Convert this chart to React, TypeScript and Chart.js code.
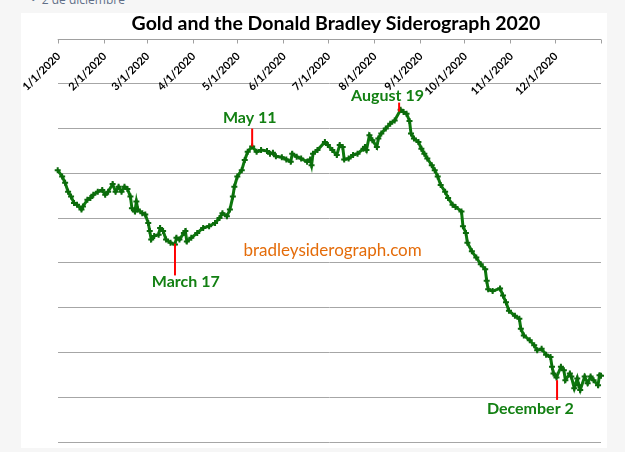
import React, { useEffect, useRef } from 'react';
import { Chart, registerables } from 'chart.js';

Chart.register(...registerables);

const TITLE = 'Gold and the Donald Bradley Siderograph 2020';

// x axis: day offsets from 1/1/2020
const MONTH_TICK_DAYS = [0, 31, 60, 91, 121, 152, 182, 213, 244, 274, 305, 335, 366];
const MONTH_TICK_LABELS = [
  '1/1/2020', '2/1/2020', '3/1/2020', '4/1/2020', '5/1/2020', '6/1/2020',
  '7/1/2020', '8/1/2020', '9/1/2020', '10/1/2020', '11/1/2020', '12/1/2020', '',
];

const DAY_OFFSETS = [
  0, 3, 5, 7, 9, 11, 13, 16, 17, 20,
  22, 24, 27, 30, 32, 34, 37, 39, 41, 43,
  45, 47, 49, 50, 52, 53, 54, 57, 59, 61,
  62, 63, 65, 68, 69, 71, 73, 76, 79, 80,
  82, 85, 86, 87, 90, 94, 98, 102, 106, 109,
  111, 114, 116, 118, 119, 121, 124, 126, 128, 131,
  134, 137, 141, 143, 145, 147, 151, 154, 157, 158,
  161, 164, 168, 170, 171, 172, 175, 180, 182, 185,
  188, 190, 192, 193, 196, 199, 202, 206, 207, 208,
  210, 212, 215, 216, 218, 221, 224, 227, 231, 233,
  235, 237, 238, 240, 243, 245, 247, 249, 252, 254,
  256, 258, 261, 263, 266, 268, 272, 273, 275, 276,
  279, 282, 285, 288, 289, 290, 293, 298, 300, 302,
  304, 308, 311, 312, 314, 318, 321, 323, 326, 329,
  332, 333, 334, 336, 339, 341, 342, 345, 346, 348,
  350, 351, 352, 355, 357, 359, 361, 364, 365, 366,
];

const SIDEROGRAPH_VALUES = [
  607, 593, 579, 559, 548, 534, 530, 519, 526, 541,
  545, 552, 559, 563, 552, 559, 576, 559, 570, 559,
  570, 565, 548, 522, 515, 537, 519, 511, 508, 489,
  471, 452, 460, 463, 478, 471, 452, 445, 441, 456,
  452, 467, 471, 448, 456, 467, 478, 482, 489, 500,
  511, 504, 519, 548, 570, 593, 607, 630, 648, 660,
  648, 652, 650, 644, 646, 638, 636, 631, 626, 644,
  637, 633, 626, 631, 618, 644, 652, 670, 663, 652,
  641, 663, 659, 631, 633, 641, 644, 655, 659, 652,
  685, 674, 659, 678, 689, 700, 711, 718, 742, 737,
  733, 717, 689, 678, 670, 655, 644, 633, 618, 607,
  593, 574, 559, 545, 530, 525, 515, 482, 467, 445,
  426, 412, 397, 386, 360, 341, 337, 343, 327, 312,
  293, 282, 275, 253, 238, 227, 216, 205, 208, 195,
  190, 168, 153, 144, 168, 160, 138, 153, 146, 120,
  142, 127, 116, 146, 131, 146, 138, 127, 149, 148,
];

// turning point annotations
const TURN_LABELS = ['March 17', 'May 11', 'August 19', 'December 2'];
const TURN_DAYS = [79, 131, 230, 336.4];
const TURN_LINE_TOP = [443, 700, 758, 138];
const TURN_LINE_BOTTOM = [372, 660, 738, 94];
const TURN_LABEL_DAYS = [86.3, 129.4, 222.2, 318.4];
const TURN_LABEL_VALUES = [357, 723, 772, 75];

const WATERMARK = 'bradleysiderograph.com';
const WATERMARK_DAY = 185.2;
const WATERMARK_VALUE = 428;

const overlay = {
  id: 'overlay',
  afterDraw(chart: any) {
    const { ctx, chartArea, scales } = chart;
    const xs = scales.x;
    const ys = scales.y;
    ctx.save();

    // title
    ctx.font = 'bold 19.5px Lato';
    ctx.fillStyle = '#000000';
    ctx.textAlign = 'center';
    ctx.textBaseline = 'middle';
    ctx.fillText(TITLE, 315, 11);

    // top axis line + tick marks
    const top = Math.round(chartArea.top) + 0.5;
    ctx.strokeStyle = '#a0a0a0';
    ctx.lineWidth = 1;
    ctx.beginPath();
    ctx.moveTo(chartArea.left, top);
    ctx.lineTo(chartArea.right, top);
    MONTH_TICK_DAYS.forEach((d) => {
      const x = Math.round(xs.getPixelForValue(d)) + 0.5;
      ctx.moveTo(x, top);
      ctx.lineTo(x, top + 4);
    });
    ctx.stroke();

    // rotated tick labels hanging below the axis
    ctx.font = 'bold 11px Lato';
    ctx.fillStyle = '#000000';
    ctx.textAlign = 'right';
    ctx.textBaseline = 'middle';
    MONTH_TICK_LABELS.forEach((t, i) => {
      if (!t) return;
      const x = xs.getPixelForValue(MONTH_TICK_DAYS[i]);
      ctx.save();
      ctx.translate(x + 1, top + 15);
      ctx.rotate(-Math.PI / 4);
      ctx.fillText(t, 0, 0);
      ctx.restore();
    });

    // red marker lines
    ctx.strokeStyle = '#ff0000';
    ctx.lineWidth = 2;
    TURN_DAYS.forEach((d, i) => {
      const x = xs.getPixelForValue(d);
      ctx.beginPath();
      ctx.moveTo(x, ys.getPixelForValue(TURN_LINE_TOP[i]));
      ctx.lineTo(x, ys.getPixelForValue(TURN_LINE_BOTTOM[i]));
      ctx.stroke();
    });

    // labels
    ctx.font = 'bold 16px Lato';
    ctx.fillStyle = '#138013';
    ctx.textAlign = 'center';
    ctx.textBaseline = 'middle';
    TURN_LABELS.forEach((t, i) => {
      ctx.fillText(t, xs.getPixelForValue(TURN_LABEL_DAYS[i]), ys.getPixelForValue(TURN_LABEL_VALUES[i]));
    });

    // watermark
    ctx.font = '17px Lato';
    ctx.fillStyle = '#e46c0a';
    ctx.fillText(WATERMARK, xs.getPixelForValue(WATERMARK_DAY), ys.getPixelForValue(WATERMARK_VALUE));

    ctx.restore();
  },
};

export default function App() {
  const ref = useRef<HTMLCanvasElement>(null);

  useEffect(() => {
    const canvas = ref.current;
    if (!canvas) return;
    const chart = new Chart(canvas, {
      type: 'line',
      data: {
        datasets: [
          {
            label: 'Siderograph',
            data: DAY_OFFSETS.map((d, i) => ({ x: d, y: SIDEROGRAPH_VALUES[i] })),
            borderColor: '#0d780d',
            borderWidth: 3,
            pointStyle: 'cross',
            pointRadius: 3,
            pointBorderWidth: 2,
            pointBorderColor: '#0b6a0b',
            pointBackgroundColor: '#0b6a0b',
            tension: 0,
            clip: false,
          } as any,
        ],
      },
      options: {
        responsive: false,
        animation: false,
        events: [],
        layout: { padding: { top: 26, left: 36.7, right: 5.3, bottom: 4 } },
        plugins: {
          legend: { display: false },
          title: { display: false },
          tooltip: { enabled: false },
        },
        scales: {
          x: { type: 'linear', min: 0, max: 366, display: false },
          y: {
            type: 'linear',
            min: 0,
            max: 900,
            ticks: { stepSize: 100, display: false },
            grid: { color: '#a6a6a6', lineWidth: 1, drawTicks: false },
            border: { display: false },
          },
        },
      },
      plugins: [overlay],
    });
    if ((document as any).fonts && (document as any).fonts.ready) {
      (document as any).fonts.ready.then(() => chart.draw());
    }
    return () => chart.destroy();
  }, []);

  return (
    <div
      style={{
        position: 'fixed',
        left: 0,
        top: 0,
        width: 625,
        height: 452,
        background: '#f6f6f6',
        overflow: 'hidden',
      }}
    >
      <div
        style={{
          position: 'absolute',
          left: 31,
          top: -9,
          font: '12px "Open Sans", sans-serif',
          color: '#5f6f88',
          whiteSpace: 'nowrap',
        }}
      >
        •&nbsp;&nbsp;2 de diciembre
      </div>
      <div
        style={{
          position: 'absolute',
          left: 21,
          top: 13,
          width: 586,
          height: 435,
          background: '#ffffff',
        }}
      >
        <canvas ref={ref} width={586} height={435} style={{ display: 'block' }} />
      </div>
    </div>
  );
}
